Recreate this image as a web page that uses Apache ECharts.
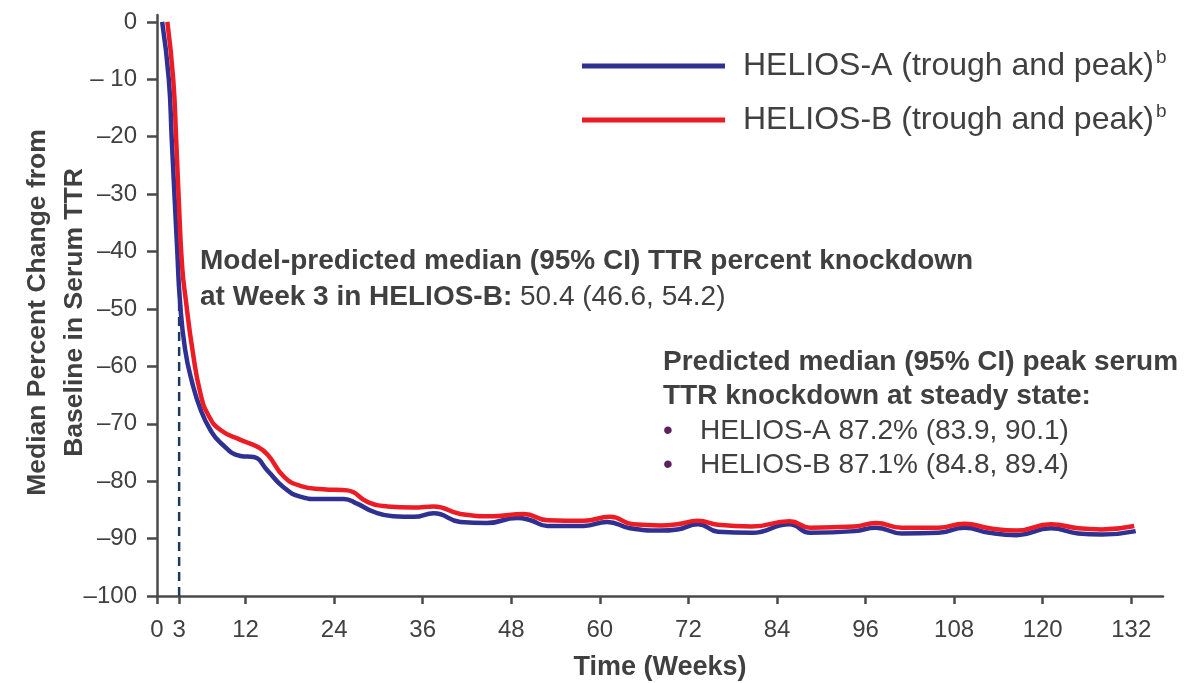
<!DOCTYPE html>
<html>
<head>
<meta charset="utf-8">
<script src="https://cdn.jsdelivr.net/npm/echarts@6/dist/echarts.min.js"></script>
<style>
html,body{margin:0;padding:0;background:#fff;}
#chart{width:1196px;height:683px;}
</style>
</head>
<body>
<div id="chart"></div>
<script>
// ---- data ----
const seriesNames = ['HELIOS-A (trough and peak)', 'HELIOS-B (trough and peak)'];
const xTickValues = [0, 3, 12, 24, 36, 48, 60, 72, 84, 96, 108, 120, 132];
const yTickValues = [-100, -90, -80, -70, -60, -50, -40, -30, -20, -10, 0];
const yTickLabels = ['–100', '–90', '–80', '–70', '–60', '–50', '–40', '–30', '–20', '– 10', '0'];
const week3Marker = [[3, -100], [3, -47.5]];

const heliosA = [
  [0.7, 0], [1.6, -10], [2.0, -20.5], [2.4, -31], [2.75, -40], [3.1, -48.4], [3.8, -57], [4.8, -63],
  [5.9, -67.5], [7.2, -71], [8.6, -73.3], [11.3, -75.6], [13.1, -75.8], [15.0, -78.2], [17.1, -81],
  [19.4, -82.7], [21.7, -83.1], [25.3, -83.1], [27.1, -83.9], [29.3, -85.3], [32.0, -86.1],
  [34.8, -86.2], [37.5, -85.6], [41.1, -87.1], [44.7, -87.3], [48.8, -86.4], [50.6, -86.8],
  [52.9, -87.8], [57.8, -87.8], [61.0, -87.1], [64.1, -88.2], [68.2, -88.6], [70.5, -88.4],
  [73.3, -87.5], [76.0, -88.8], [80.6, -89.0], [85.7, -87.5], [88.5, -89.0], [94.5, -88.7],
  [97.4, -88.1], [100.9, -89.1], [105.9, -89.0], [109.4, -88.1], [112.8, -89.0], [116.5, -89.4],
  [121.1, -88.2], [124.8, -89.1], [128.0, -89.3], [132.6, -88.7]
];
const heliosB = [
  [1.4, 0], [2.2, -10], [2.6, -20.5], [2.95, -31], [3.4, -42.5], [3.9, -48.4], [4.8, -57.1],
  [5.9, -64.8], [7.0, -68.6], [8.6, -71.1], [11.3, -72.8], [13.6, -74], [15.0, -75.4], [17.2, -79.2],
  [19.4, -80.8], [22.5, -81.4], [25.8, -81.6], [28.5, -83.6], [31.2, -84.4], [34.8, -84.6],
  [37.5, -84.4], [41.1, -85.7], [45.6, -86.1], [49.7, -85.7], [52.9, -86.8], [57.8, -86.9],
  [61.4, -86.2], [64.5, -87.5], [68.2, -87.7], [70.5, -87.5], [73.3, -86.9], [76.0, -87.6],
  [80.6, -87.9], [85.7, -87.0], [88.5, -88.1], [94.5, -87.9], [97.4, -87.3], [100.9, -88.1],
  [105.9, -88.1], [109.4, -87.4], [112.8, -88.2], [116.5, -88.6], [121.1, -87.5], [124.8, -88.2],
  [128.0, -88.4], [132.4, -87.8]
];

// ---- chart ----
const FONT = '"Liberation Sans", Arial, sans-serif';
const TXT = '#404040';
const AXIS = '#4a4a4a';
const BLUE = '#2E3192';
const RED = '#ED1C24';

const chart = echarts.init(document.getElementById('chart'), null, {renderer: 'canvas'});

const legendRich = {
  a: {fontSize: 32, color: TXT, fontFamily: FONT, lineHeight: 36},
  s: {fontSize: 19, color: TXT, fontFamily: FONT, verticalAlign: 'top', lineHeight: 36, padding: [0, 0, 16, 2]}
};

chart.setOption({
  animation: false,
  backgroundColor: '#ffffff',
  textStyle: {fontFamily: FONT},
  grid: {left: 157, right: 33, top: 15, bottom: 87, containLabel: false, outerBoundsMode: 'none'},
  legend: {
    data: seriesNames,
    orient: 'vertical',
    left: 582,
    top: 48,
    padding: 0,
    icon: 'rect',
    itemWidth: 143,
    itemHeight: 5,
    itemGap: 19,
    textStyle: {padding: [0, 0, 0, 13], rich: legendRich},
    formatter: name => '{a|' + name + '}{s|b}'
  },
  xAxis: {
    type: 'value',
    min: 0,
    max: 136.3,
    name: 'Time (Weeks)',
    nameLocation: 'middle',
    nameGap: 58,
    nameMoveOverlap: false,
    nameTextStyle: {fontSize: 27, fontWeight: 'bold', color: TXT, fontFamily: FONT},
    splitLine: {show: false},
    axisLine: {show: true, onZero: false, lineStyle: {color: AXIS, width: 2.5}},
    axisTick: {show: true, length: 8, lineStyle: {color: AXIS, width: 2.5}, customValues: xTickValues},
    axisLabel: {fontSize: 24, color: TXT, fontFamily: FONT, margin: 22, customValues: xTickValues}
  },
  yAxis: {
    type: 'value',
    min: -100,
    max: 1.2,
    name: 'Median Percent Change from\nBaseline in Serum TTR',
    nameLocation: 'middle',
    nameGap: 64,
    nameMoveOverlap: false,
    nameRotate: 90,
    nameTextStyle: {fontSize: 26.5, fontWeight: 'bold', color: TXT, fontFamily: FONT, lineHeight: 37, padding: [0, 14, 0, 0]},
    splitLine: {show: false},
    axisLine: {show: true, onZero: false, lineStyle: {color: AXIS, width: 2.5}},
    axisTick: {show: true, length: 10, lineStyle: {color: AXIS, width: 2.5}, customValues: yTickValues},
    axisLabel: {
      fontSize: 24, color: TXT, fontFamily: FONT, margin: 20, customValues: yTickValues,
      formatter: v => {
        const i = yTickValues.indexOf(Math.round(v));
        return i >= 0 ? yTickLabels[i] : '';
      }
    }
  },
  series: [
    {
      name: 'week3',
      type: 'line',
      data: week3Marker,
      showSymbol: false,
      symbol: 'none',
      silent: true,
      lineStyle: {color: '#1B3A5C', width: 2.5, type: [9, 6]},
      z: 1
    },
    {
      name: seriesNames[0],
      type: 'line',
      data: heliosA,
      smooth: 0.5,
      showSymbol: false,
      symbol: 'none',
      itemStyle: {color: BLUE},
      lineStyle: {color: BLUE, width: 4.5},
      z: 2
    },
    {
      name: seriesNames[1],
      type: 'line',
      data: heliosB,
      smooth: 0.5,
      showSymbol: false,
      symbol: 'none',
      itemStyle: {color: RED},
      lineStyle: {color: RED, width: 4.5},
      z: 3
    }
  ],
  graphic: [
    {
      type: 'text',
      left: 200,
      top: 247,
      style: {
        text: '{b|Model-predicted median (95% CI) TTR percent knockdown}\n{b|at Week 3 in HELIOS-B:}{n| 50.4 (46.6, 54.2)}',
        rich: {
          b: {fontSize: 28, fontWeight: 'bold', fill: TXT, fontFamily: FONT, lineHeight: 36},
          n: {fontSize: 28, fill: TXT, fontFamily: FONT, lineHeight: 36}
        }
      }
    },
    {
      type: 'text',
      left: 663,
      top: 348,
      style: {
        text: '{b|Predicted median (95% CI) peak serum}\n{b|TTR knockdown at steady state:}\n{d|•}{n|HELIOS-A 87.2% (83.9, 90.1)}\n{d|•}{n|HELIOS-B 87.1% (84.8, 89.4)}',
        rich: {
          b: {fontSize: 28, fontWeight: 'bold', fill: TXT, fontFamily: FONT, lineHeight: 34.5},
          n: {fontSize: 28, fill: TXT, fontFamily: FONT, lineHeight: 34.5},
          d: {fontSize: 28, fill: '#5E2160', fontFamily: FONT, lineHeight: 34.5, width: 37}
        }
      }
    }
  ]
});
</script>
</body>
</html>
